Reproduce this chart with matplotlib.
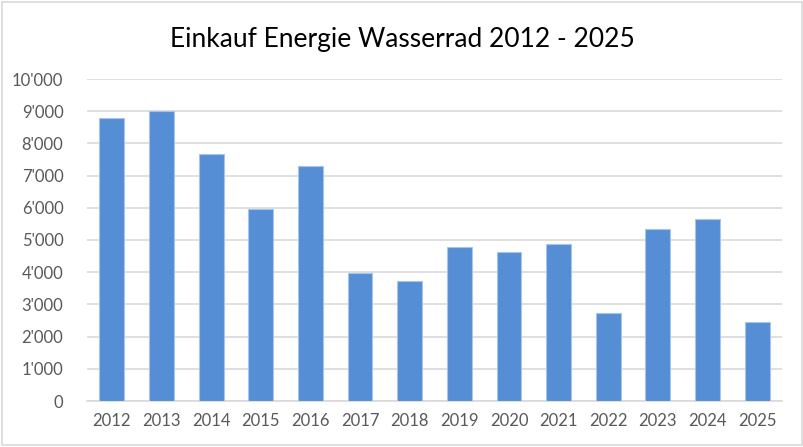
import matplotlib
matplotlib.use("Agg")
import matplotlib.pyplot as plt
from matplotlib.ticker import FuncFormatter, MultipleLocator
from matplotlib.patches import Rectangle

plt.rcParams['font.family'] = ['Lato', 'DejaVu Sans']

years = ["2012", "2013", "2014", "2015", "2016", "2017", "2018",
         "2019", "2020", "2021", "2022", "2023", "2024", "2025"]
values = [8780, 9000, 7680, 5970, 7290, 3960, 3720,
          4780, 4630, 4880, 2730, 5340, 5640, 2460]
title = "Einkauf Energie Wasserrad 2012 - 2025"

fig = plt.figure(figsize=(8.04, 4.47), dpi=100)
ax = fig.add_axes([87/804, 1 - 401/447, 695/804, (401 - 79)/447])

x = range(len(years))
ax.bar(x, values, width=0.5, color="#558ED5", edgecolor="#A9C4EB",
       linewidth=0.8, zorder=3)

ax.set_ylim(0, 10000)
ax.set_xlim(-0.5, len(years) - 0.5)
ax.yaxis.set_major_locator(MultipleLocator(1000))
ax.yaxis.set_major_formatter(FuncFormatter(
    lambda v, p: f"{int(v):,}".replace(",", "'")))
ax.set_xticks(list(x))
ax.set_xticklabels(years)
ax.grid(axis="y", color="#D9D9D9", linewidth=1.2, zorder=0)
for s in ["top", "right", "left"]:
    ax.spines[s].set_visible(False)
ax.spines["bottom"].set_color("#D9D9D9")
ax.spines["bottom"].set_linewidth(1.2)
ax.tick_params(axis="both", length=0, labelsize=12, colors="#595959")
ax.tick_params(axis="y", pad=17)
ax.tick_params(axis="x", pad=9)

fig.text(0.5, 1 - 40/447, title, ha="center", va="center",
         fontsize=19, color="#000000")

fig.patches.append(Rectangle((0.003, 0.004), 0.994, 0.992,
                             transform=fig.transFigure, fill=False,
                             edgecolor="#D9D9D9", linewidth=1.2))

fig.savefig("out.png", dpi=100)
